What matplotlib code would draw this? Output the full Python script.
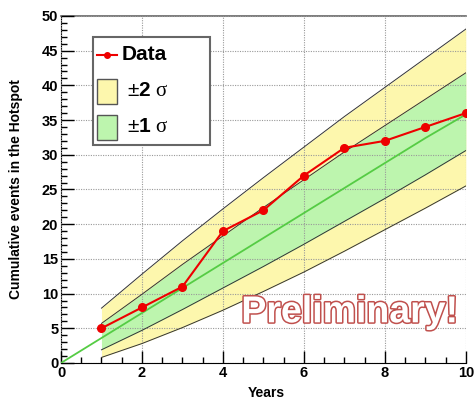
import matplotlib
matplotlib.use("Agg")
import matplotlib.pyplot as plt
import matplotlib.patheffects as pe
from matplotlib.lines import Line2D
from matplotlib.patches import Rectangle

plt.rcParams['font.family'] = ['Liberation Sans', 'DejaVu Sans']
plt.rcParams['mathtext.fontset'] = 'custom'
plt.rcParams['mathtext.rm'] = 'Liberation Sans'
plt.rcParams['mathtext.bf'] = 'Liberation Sans:bold'
plt.rcParams['mathtext.it'] = 'Liberation Serif'

years = [1, 2, 3, 4, 5, 6, 7, 8, 9, 10]
data = [5, 8, 11, 19, 22, 27, 31, 32, 34, 36]

mean_x = [0, 1, 2, 3, 4, 5, 6, 7, 8, 9, 10]
mean_y = [0, 3.6, 7.2, 10.8, 14.4, 18.0, 21.6, 25.2, 28.8, 32.4, 35.8]

lo2 = [0.8, 2.8, 5.1, 7.6, 10.3, 13.1, 16.1, 19.2, 22.3, 25.5]
lo1 = [1.9, 4.7, 7.7, 10.8, 13.9, 17.1, 20.4, 23.7, 27.1, 30.6]
hi1 = [5.7, 9.9, 14.2, 18.3, 22.4, 26.4, 30.4, 34.2, 38.0, 41.8]
hi2 = [7.9, 12.8, 17.6, 22.2, 26.7, 31.1, 35.5, 39.7, 43.9, 48.1]

legend_labels = ['Data', r'$\pm\mathbf{2}\ \sigma$', r'$\pm\mathbf{1}\ \sigma$']

fig = plt.figure(figsize=(4.74, 3.98), dpi=100)
ax = fig.add_axes([0.1287, 0.088, 0.854, 0.872])

yellow = '#fdf7ad'
green = '#bdf5ae'

ax.fill_between(years, lo2, hi2, color=yellow, lw=0, zorder=1)
ax.fill_between(years, lo1, hi1, color=green, lw=0, zorder=2)
for arr in (lo2, hi2, lo1, hi1):
    ax.plot(years, arr, color='#333333', lw=0.7, zorder=3)

ax.plot(mean_x, mean_y, color='#55cc44', lw=1.3, zorder=4)
ax.plot(years, data, color='#ee0000', lw=1.5, marker='o', ms=5.5, zorder=6)

ax.set_xlim(0, 10)
ax.set_ylim(0, 50)
ax.set_xticks([0, 2, 4, 6, 8, 10])
ax.set_xticks([i * 0.5 for i in range(21)], minor=True)
ax.set_yticks([0, 5, 10, 15, 20, 25, 30, 35, 40, 45, 50])
ax.set_yticks(list(range(51)), minor=True)

ax.grid(True, which='major', color='#999999', ls=(0, (1, 1.2)), lw=0.8, zorder=5)
ax.set_axisbelow(False)

ax.tick_params(axis='both', which='major', direction='in', length=9, width=1,
               labelsize=10.5, pad=2)
ax.tick_params(axis='both', which='minor', direction='in', length=4.5, width=1)
ax.tick_params(top=False, right=False, which='both')
for lab in ax.get_xticklabels() + ax.get_yticklabels():
    lab.set_fontweight('bold')

ax.spines['right'].set_visible(False)
ax.spines['top'].set_color('#666666')
ax.spines['top'].set_linewidth(1.2)

ax.set_ylabel('Cumulative events in the Hotspot', fontsize=10, fontweight='bold')
ax.yaxis.set_label_coords(-0.095, 0.5)
ax.set_xlabel('Years', fontsize=10, fontweight='bold')
ax.xaxis.set_label_coords(0.508, -0.065)

# legend drawn manually (axes coordinates)
T = ax.transAxes
ax.add_patch(Rectangle((0.079, 0.628), 0.289, 0.3115, transform=T,
                       facecolor='white', edgecolor='#666666', lw=1.5,
                       zorder=10, clip_on=False))
ax.add_line(Line2D([0.0889, 0.1383], [0.8876, 0.8876], transform=T,
                   color='#ee0000', lw=1.5, zorder=11))
ax.add_line(Line2D([0.1136], [0.8876], transform=T, color='#ee0000',
                   marker='o', ms=4, zorder=11))
ax.add_patch(Rectangle((0.0889, 0.7464), 0.0494, 0.072, transform=T,
                       facecolor=yellow, edgecolor='#555555', lw=1, zorder=11))
ax.add_patch(Rectangle((0.0889, 0.6427), 0.0494, 0.072, transform=T,
                       facecolor=green, edgecolor='#555555', lw=1, zorder=11))
ax.text(0.1506, 0.8876, legend_labels[0], transform=T, fontsize=15,
        fontweight='bold', va='center', ha='left', zorder=12)
ax.text(0.163, 0.7839, legend_labels[1], transform=T, fontsize=15,
        va='center', ha='left', zorder=12)
ax.text(0.163, 0.6801, legend_labels[2], transform=T, fontsize=15,
        va='center', ha='left', zorder=12)

ax.text(0.713, 0.146, 'Preliminary!', transform=ax.transAxes, fontsize=27,
        fontweight='bold', color='white', ha='center', va='center', zorder=12,
        path_effects=[pe.withStroke(linewidth=2.2, foreground='#c0504d')])

fig.savefig('out.png', dpi=100)
